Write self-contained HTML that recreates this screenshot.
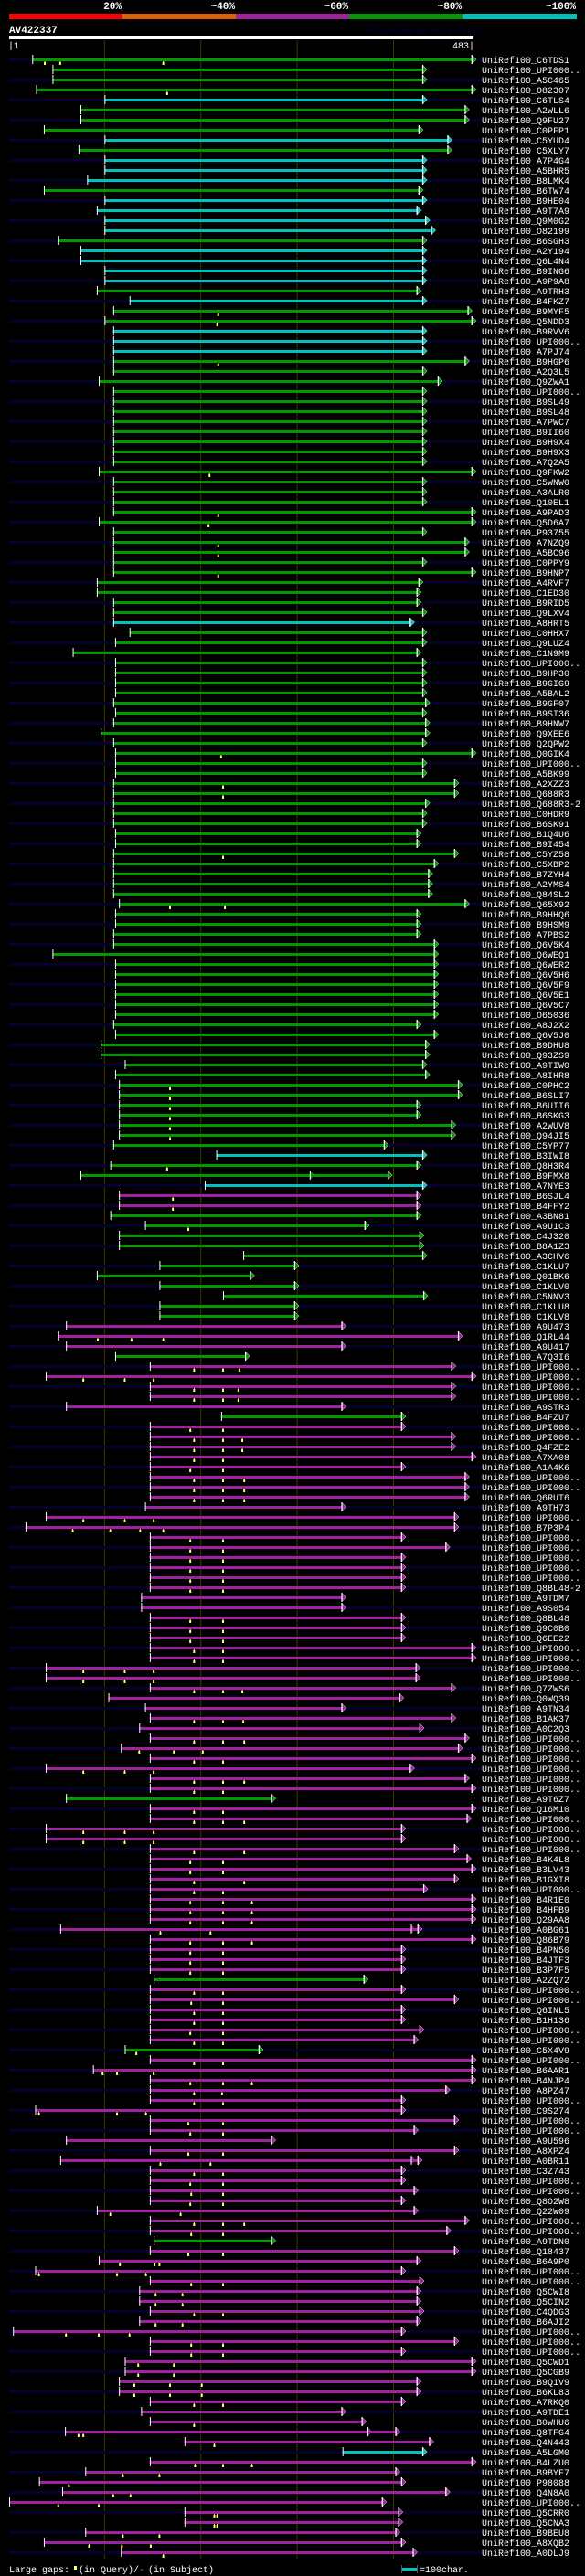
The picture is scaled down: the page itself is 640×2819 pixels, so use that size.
<!DOCTYPE html>
<html><head><meta charset="utf-8"><title>AlignView AV422337</title>
<style>
html,body{margin:0;padding:0;background:#000;}
svg{display:block;font-family:"Liberation Mono",monospace;}
</style></head>
<body>
<svg id="chart" xmlns="http://www.w3.org/2000/svg" width="640" height="2819" viewBox="0 0 640 2819">
<rect x="0" y="0" width="640" height="2819" fill="#000"/>
<g>
<rect x="10" y="15" width="124" height="6" fill="#ff0000"/>
<rect x="134" y="15" width="124" height="6" fill="#e06000"/>
<rect x="258" y="15" width="124" height="6" fill="#a020a0"/>
<rect x="382" y="15" width="124" height="6" fill="#009900"/>
<rect x="506" y="15" width="125" height="6" fill="#00c0c0"/>
<g font-size="11" font-weight="bold" fill="#fff" text-anchor="end">
<text x="133" y="10">20%</text>
<text x="257" y="10">~40%</text>
<text x="381" y="10">~60%</text>
<text x="505" y="10">~80%</text>
<text x="630" y="10">~100%</text>
</g></g>
<text x="10" y="36" font-size="11" font-weight="bold" fill="#fff">AV422337</text>
<text x="402" y="36" font-size="9" fill="#000048">AlignView.pm Beta rel.7</text>
<rect x="10" y="39" width="508" height="4" fill="#fff"/>
<text x="9" y="53" font-size="10" fill="#fff">|1</text>
<text x="519" y="53" font-size="10" fill="#fff" text-anchor="end">483|</text>
<g id="grid"></g>
<g id="rows"></g>
<g font-size="10" fill="#fff">
<text x="10" y="2815">Large gaps:</text>
<rect x="81" y="2808" width="3" height="4" fill="#ffff66"/>
<text x="86" y="2815">(in Query)/</text>
<text x="152" y="2815" fill="#00c0c0">-</text>
<text x="162" y="2815">(in Subject)</text>
<rect x="439" y="2810" width="17" height="3" fill="#00c0c0"/>
<rect x="439" y="2807" width="1" height="9" fill="#555"/>
<rect x="456" y="2807" width="1" height="9" fill="#555"/>
<text x="459" y="2815">=100char.</text>
</g>
</svg>
<script>
const labels = ["C6TDS1","UPI000..","A5C465","O82307","C6TLS4","A2WLL6","Q9FU27","C0PFP1","C5YUD4","C5XLY7",
"A7P4G4","A5BHR5","B8LMK4","B6TW74","B9HE04","A9T7A9","Q9M0G2","O82199","B6SGH3","A2Y194",
"Q6L4N4","B9ING6","A9P9A8","A9TRH3","B4FKZ7","B9MYF5","Q5NDD3","B9RVV6","UPI000..","A7PJ74",
"B9HGP6","A2Q3L5","Q9ZWA1","UPI000..","B9SL49","B9SL48","A7PWC7","B9II60","B9H9X4","B9H9X3",
"A7Q2A5","Q9FKW2","C5WNW0","A3ALR0","Q10EL1","A9PAD3","Q5D6A7","P93755","A7NZQ9","A5BC96",
"C0PPY9","B9HNP7","A4RVF7","C1ED30","B9RID5","Q9LXV4","A8HRT5","C0HHX7","Q9LUZ4","C1N9M9",
"UPI000..","B9HP30","B9GIG9","A5BAL2","B9GF07","B9SI36","B9HNW7","Q9XEE6","Q2QPW2","Q0GIK4",
"UPI000..","A5BK99","A2XZZ3","Q688R3","Q688R3-2","C0HDR9","B6SK91","B1Q4U6","B9I454","C5YZ58",
"C5XBP2","B7ZYH4","A2YMS4","Q84SL2","Q65X92","B9HHQ6","B9HSM9","A7PBS2","Q6V5K4","Q6WEQ1",
"Q6WER2","Q6V5H6","Q6V5F9","Q6V5E1","Q6V5C7","O65036","A8J2X2","Q6V5J0","B9DHU8","Q93ZS9",
"A9TIW0","A8IHR8","C0PHC2","B6SLI7","B6UII6","B6SKG3","A2WUV8","Q94JI5","C5YP77","B3IWI8",
"Q8H3R4","B9FMX8","A7NYE3","B6SJL4","B4FFY2","A3BN81","A9U1C3","C4J320","B8A1Z3","A3CHV6",
"C1KLU7","Q01BK6","C1KLV0","C5NNV3","C1KLU8","C1KLV8","A9U473","Q1RL44","A9U417","A7Q3I6",
"UPI000..","UPI000..","UPI000..","UPI000..","A9STR3","B4FZU7","UPI000..","UPI000..","Q4FZE2","A7XA08",
"A1A4K6","UPI000..","UPI000..","Q6RUT6","A9TH73","UPI000..","B7P3P4","UPI000..","UPI000..","UPI000..",
"UPI000..","UPI000..","Q8BL48-2","A9TDM7","A9S054","Q8BL48","Q9C0B0","Q6EE22","UPI000..","UPI000..",
"UPI000..","UPI000..","Q7ZWS6","Q0WQ39","A9TN34","B1AK37","A0C2Q3","UPI000..","UPI000..","UPI000..",
"UPI000..","UPI000..","UPI000..","A9T6Z7","Q16M10","UPI000..","UPI000..","UPI000..","UPI000..","B4K4L8",
"B3LV43","B1GXI8","UPI000..","B4R1E0","B4HFB9","Q29AA8","A0BG61","Q86B79","B4PN50","B4JTF3",
"B3P7F5","A2ZQ72","UPI000..","UPI000..","Q6INL5","B1H136","UPI000..","UPI000..","C5X4V9","UPI000..",
"B6AAR1","B4NJP4","A8PZ47","UPI000..","C9S274","UPI000..","UPI000..","A9U596","A8XPZ4","A0BR11",
"C3Z743","UPI000..","UPI000..","Q8O2W8","Q22W09","UPI000..","UPI000..","A9TDN0","Q18437","B6A9P0",
"UPI000..","UPI000..","Q5CWI8","Q5CIN2","C4QDG3","B6AJI2","UPI000..","UPI000..","UPI000..","Q5CWD1",
"Q5CGB9","B9Q1V9","B6KL83","A7RKQ0","A9TDE1","B0WHU6","Q8TFG4","Q4N443","A5LGM0","B4LZU0",
"B9BYF7","P98088","Q4N8A0","UPI000..","Q5CRR0","Q5CNA3","B9BEU8","A8XQB2","A0DLJ9"];
const colorCodes = ("ggggcgggcg"+"cccgccccgc"+"cccgcggccc"+"gggggggggg"+"gggggggggg"+"ggggggcggg"+"gggggggggg"+"gggggggggg"+"gggggggggg"+"gggggggggg"+
"gggggggggc"+"ggcmmggggg"+"ggggggmmmg"+"mmmmmgmmmm"+"mmmmmmmmmm"+"mmmmmmmmmm"+"mmmmmmmmmm"+"mmmgmmmmmm"+"mmmmmmmmmm"+"mgmmmmmmgm"+
"mmmmmmmmmm"+"mmmmmmmgmm"+"mmmmmmmmmm"+"mmmmmmmmcm"+"mmmmmmmmm").split("");
const starts = [25,46,46,29,100,75,75,37,100,73,
100,100,82,37,100,92,100,100,52,75,
75,100,100,92,126,109,100,109,109,109,
109,109,94,109,109,109,109,109,109,109,
109,94,109,109,109,109,94,109,109,109,
109,109,92,92,109,109,109,126,111,67,
111,111,111,111,109,111,109,96,109,111,
111,111,109,109,109,109,109,111,111,109,
109,109,109,109,115,111,111,109,109,46,
111,111,111,111,111,111,109,111,96,96,
121,111,115,115,115,115,115,115,109,216,
106,75,204,115,115,106,142,115,115,244,
157,92,157,223,157,157,60,52,60,111,
147,39,147,147,60,221,147,147,147,147,
147,147,147,147,142,39,18,147,147,147,
147,147,147,138,138,147,147,147,147,147,
39,39,147,104,142,147,136,147,117,147,
39,147,147,60,147,147,39,39,147,147,
147,147,147,147,147,147,54,147,147,147,
147,151,147,147,147,147,147,147,121,147,
88,147,147,147,28,147,147,60,147,54,
147,147,147,147,92,147,147,151,147,94,
28,147,136,136,147,136,5,147,147,121,
121,115,115,147,138,147,59,183,347,147,
80,32,56,1,183,183,80,37,117];
const ends = [481,430,430,481,430,474,474,426,456,456,
430,430,430,426,430,424,433,439,430,430,
430,430,430,424,430,477,481,430,430,430,
474,430,446,430,430,430,430,430,430,430,
430,481,430,430,430,481,481,430,474,474,
430,481,426,424,424,430,417,430,430,424,
430,430,430,430,433,430,433,433,430,481,
430,430,463,463,433,430,430,424,424,463,
442,436,436,436,474,424,424,424,442,442,
442,442,442,442,442,442,424,442,433,433,
430,433,467,467,424,424,460,460,390,430,
424,394,430,424,424,424,370,427,427,430,
297,251,297,431,297,297,346,467,346,246,
460,481,460,460,346,408,408,460,460,481,
408,474,474,474,346,463,463,408,454,408,
408,408,408,346,346,408,408,408,481,481,
423,423,460,406,346,460,427,474,467,481,
417,474,481,273,481,476,408,408,463,476,
481,463,431,481,481,481,425,481,408,408,
408,369,408,463,408,408,427,421,260,481,
481,481,454,408,408,463,421,273,463,425,
408,408,421,408,421,474,455,273,463,424,
408,427,424,424,427,424,408,463,408,481,
481,424,424,408,346,367,402,437,430,481,
402,408,454,388,405,405,402,408,420];
const gaps = [[38,54,161],[],[],[165],[],[],[],[],[],[],
[],[],[],[],[],[],[],[],[],[],
[],[],[],[],[],[218],[217],[],[],[],
[218],[],[],[],[],[],[],[],[],[],
[],[209],[],[],[],[218],[208],[],[218],[218],
[],[218],[],[],[],[],[],[],[],[],
[],[],[],[],[],[],[],[],[],[221],
[],[],[223],[223],[],[],[],[],[],[223],
[],[],[],[],[168,225],[],[],[],[],[],
[],[],[],[],[],[],[],[],[],[],
[],[],[168],[168],[168],[168],[168],[168],[],[],
[165],[],[],[171],[171],[],[187],[],[],[],
[],[],[],[],[],[],[],[93,128,161],[],[],
[193,223,240],[78,121,151],[193,223,239],[193,223,239],[],[],[189,223],[193,223,243],[193,223,243],[193,223],
[189,223],[193,223,245],[193,223,245],[193,223,245],[],[78,121,151],[67,106,137,161],[189,223],[189,223],[189,223],
[189,223],[189,223],[189,223],[],[],[189,223],[189,223],[189,223],[193,223],[193,223],
[78,121,151],[78,121,151],[193,223,243],[],[],[193,223,244],[],[193,223,245],[136,172,202],[193,223],
[78,121,151],[193,223,245],[193,223],[],[193,223],[193,223,245],[78,121,151],[78,121,151],[193,245],[189,223],
[189,223],[193,245],[193,223],[189,223,253],[189,223,253],[189,223,253],[158,210],[189,223,253],[189,223],[189,223],
[189,223],[],[193,223],[190,223],[193,223],[193,223],[189,223],[193,223],[133],[193,223],
[98,113,151],[189,223,253],[193,222],[193,223],[32,113,143],[187,223],[189,223],[],[187,223],[158,210],
[193,223],[189,223],[190,223],[189,223],[106,179],[193,223,245],[190,223],[],[187,223],[116,152,157],
[32,113,143],[190,223],[153,181],[153,181],[193,223],[153,181],[60,94,126],[190,223],[190,223],[135,172],
[135,172],[131,168,201],[131,168,201],[193,223],[],[193],[73,78],[214],[],[194,223,253],
[119,157],[63],[109,127],[52,94],[214,217],[214,217],[119,157],[84,118,148],[161]];
const innerArrowRows = [111,186,209,236];
const innerArrowPos = [313,418,418,373];
const gridTicks = [100,200,300,400];

const NS = "http://www.w3.org/2000/svg";
const QLEN = 483;
function xScale(r){ return 10 + (r-1)*508/(QLEN-1); }
function yRow(i){ return 65 + 11*i; }
const palette = {g:"#009900", c:"#00c0c0", m:"#a020a0"};
function mk(tag, attrs, parent){
  const e = document.createElementNS(NS, tag);
  for (const k in attrs) e.setAttribute(k, attrs[k]);
  parent.appendChild(e);
  return e;
}
const grid = document.getElementById("grid");
const lastY = yRow(labels.length-1) + 7;
gridTicks.forEach(t => {
  const l = mk("line", {x1:xScale(t), x2:xScale(t), y1:44, y2:lastY, stroke:"#3a3a00", "stroke-width":1}, grid);
  
  
});
const rowsG = document.getElementById("rows");
labels.forEach((lab, i) => {
  const y = yRow(i);
  const g = mk("g", {}, rowsG);
  
  
  if (i % 2 === 0) {
    const bg = mk("rect", {x:10, y:y-1, width:517, height:3, fill:"#02022c"}, g);
    
    
  }
  const col = palette[colorCodes[i]];
  const xs = xScale(starts[i]), xe = xScale(ends[i]);
  const bar = mk("rect", {x:xs, y:y-1, width:Math.max(1, xe-xs), height:3, fill:col}, g);
  
  
  const k = innerArrowRows.indexOf(i);
  if (k >= 0) {
    const xa = xScale(innerArrowPos[k]);
    const ia = mk("polygon", {points:`${xa},${y-5} ${xa+5},${y} ${xa},${y+5}`, fill:col}, g);
    
    
    const il = mk("rect", {x:xa, y:y-5, width:1, height:10, fill:"#fff"}, g);
    
    
  }
  const st = mk("rect", {x:xs, y:y-5, width:1, height:10, fill:"#fff"}, g);
  
  
  const ar = mk("polygon", {points:`${xe},${y-5} ${xe+5},${y} ${xe},${y+5}`, fill:col, stroke:"#fff", "stroke-width":0.5}, g);
  
  
  const ae = mk("rect", {x:xe, y:y-5, width:1, height:10, fill:"#fff"}, g);
  
  
  gaps[i].forEach(gp => {
    const gx = xScale(gp);
    const gm = mk("rect", {x:gx-1, y:y+3, width:2, height:3, fill:"#ffff66"}, g);
    
    
    const gs = mk("rect", {x:gx-0.5, y:y+2, width:1, height:2, fill:"#ffff66"}, g);
    
    
  });
  const t = mk("text", {x:527, y:y+4, "font-size":10, fill:"#fff"}, g);
  t.textContent = "UniRef100_" + lab;
  
  
});
</script>
</body></html>
